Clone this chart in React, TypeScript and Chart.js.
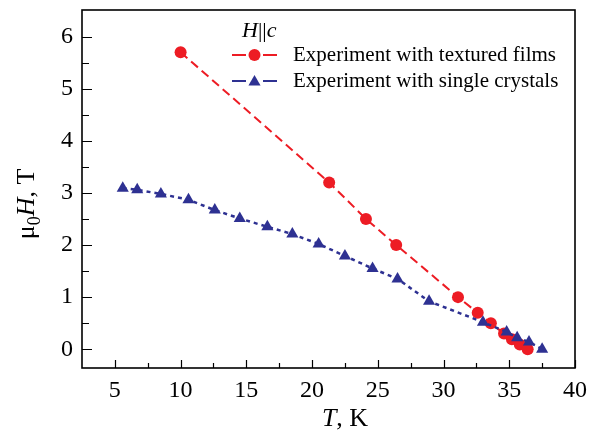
import React, { useEffect, useRef } from 'react';
import { Chart, registerables } from 'chart.js';

Chart.register(...registerables);

// ---- data ----
const filmT = [10.0, 21.3, 24.1, 26.4, 31.1, 32.6, 33.6, 34.6, 35.2, 35.8, 36.4];
const filmH = [5.7, 3.2, 2.5, 2.0, 1.0, 0.7, 0.5, 0.3, 0.19, 0.09, 0.0];

const crystalT = [5.6, 6.7, 8.5, 10.6, 12.6, 14.5, 16.6, 18.5, 20.5, 22.5, 24.6, 26.5, 28.9, 33.0, 34.8, 35.6, 36.5, 37.5];
const crystalH = [3.09, 3.06, 2.98, 2.87, 2.67, 2.51, 2.35, 2.21, 2.02, 1.79, 1.55, 1.35, 0.92, 0.52, 0.33, 0.22, 0.14, 0.0];

const filmLabel = 'Experiment with textured films';
const crystalLabel = 'Experiment with single crystals';

const xMajorTicks = [5, 10, 15, 20, 25, 30, 35, 40];
const xMinorTicks = [7.5, 12.5, 17.5, 22.5, 27.5, 32.5, 37.5];
const yMajorTicks = [0, 1, 2, 3, 4, 5, 6];
const yMinorTicks = [0.5, 1.5, 2.5, 3.5, 4.5, 5.5];

const RED = '#ed1c24';
const BLUE = '#2e3192';
const SERIF = '"Liberation Serif", "Times New Roman", serif';

type Seg = { t: string; italic?: boolean; sub?: boolean };

function segFont(s: Seg, size: number) {
  const sz = s.sub ? Math.round(size * 0.68) : size;
  return `${s.italic ? 'italic ' : ''}${sz}px ${SERIF}`;
}

function drawRich(ctx: CanvasRenderingContext2D, segs: Seg[], x: number, y: number, size: number, align: 'left' | 'center') {
  const widths = segs.map((s) => {
    ctx.font = segFont(s, size);
    return ctx.measureText(s.t).width;
  });
  const total = widths.reduce((a, b) => a + b, 0);
  let cx = align === 'center' ? x - total / 2 : x;
  ctx.textAlign = 'left';
  ctx.textBaseline = 'alphabetic';
  segs.forEach((s, i) => {
    ctx.font = segFont(s, size);
    ctx.fillText(s.t, cx, y + (s.sub ? size * 0.22 : 0));
    cx += widths[i];
  });
}

function drawMarker(ctx: CanvasRenderingContext2D, style: string, x: number, y: number, r: number) {
  ctx.beginPath();
  if (style === 'triangle') {
    let rad = 0;
    for (let k = 0; k < 3; k++) {
      const px = x + Math.sin(rad) * r;
      const py = y - Math.cos(rad) * r;
      if (k === 0) ctx.moveTo(px, py);
      else ctx.lineTo(px, py);
      rad += (2 * Math.PI) / 3;
    }
    ctx.closePath();
  } else {
    ctx.arc(x, y, r, 0, Math.PI * 2);
  }
  ctx.fill();
}

const framePlugin = {
  id: 'frame',
  afterDraw(chart: any) {
    const { ctx, chartArea: a, scales } = chart;
    const x = scales.x;
    const y = scales.y;
    ctx.save();
    ctx.strokeStyle = '#000';
    ctx.lineWidth = 1.2;
    ctx.setLineDash([]);
    ctx.beginPath();
    xMajorTicks.forEach((v) => {
      const px = Math.round(x.getPixelForValue(v)) + 0.5;
      ctx.moveTo(px, a.bottom);
      ctx.lineTo(px, a.bottom - 8);
    });
    xMinorTicks.forEach((v) => {
      const px = Math.round(x.getPixelForValue(v)) + 0.5;
      ctx.moveTo(px, a.bottom);
      ctx.lineTo(px, a.bottom - 5);
    });
    yMajorTicks.forEach((v) => {
      const py = Math.round(y.getPixelForValue(v)) + 0.5;
      ctx.moveTo(a.left, py);
      ctx.lineTo(a.left + 10, py);
    });
    yMinorTicks.forEach((v) => {
      const py = Math.round(y.getPixelForValue(v)) + 0.5;
      ctx.moveTo(a.left, py);
      ctx.lineTo(a.left + 7, py);
    });
    ctx.stroke();

    ctx.lineWidth = 1.6;
    ctx.strokeRect(a.left, a.top, a.right - a.left, a.bottom - a.top);

    ctx.fillStyle = '#000';
    // x title
    drawRich(ctx, [{ t: 'T', italic: true }, { t: ', K' }], 345, 426, 26, 'center');
    // y title
    ctx.save();
    ctx.translate(34, 204);
    ctx.rotate(-Math.PI / 2);
    drawRich(ctx, [{ t: 'μ' }, { t: '0', sub: true }, { t: 'H', italic: true }, { t: ', T' }], 0, 0, 26, 'center');
    ctx.restore();

    // legend
    drawRich(ctx, [{ t: 'H', italic: true }, { t: '||' }, { t: 'c', italic: true }], 242, 37, 22, 'left');
    const entries = [
      { ds: chart.data.datasets[0], y: 55 },
      { ds: chart.data.datasets[1], y: 81 },
    ];
    entries.forEach((e) => {
      const ds = e.ds;
      ctx.strokeStyle = ds.borderColor;
      ctx.lineWidth = 2;
      ctx.setLineDash([]);
      ctx.beginPath();
      ctx.moveTo(232, e.y);
      ctx.lineTo(246, e.y);
      ctx.moveTo(263, e.y);
      ctx.lineTo(277, e.y);
      ctx.stroke();
      ctx.fillStyle = ds.backgroundColor;
      drawMarker(ctx, ds.pointStyle, 254.5, e.y + (ds.pointStyle === 'triangle' ? 1 : 0), ds.pointRadius);
      ctx.fillStyle = '#000';
      ctx.font = `21px ${SERIF}`;
      ctx.textAlign = 'left';
      ctx.textBaseline = 'middle';
      ctx.fillText(ds.label, 293, e.y);
    });
    ctx.restore();
  },
};

export default function App() {
  const ref = useRef<HTMLCanvasElement>(null);
  useEffect(() => {
    document.body.style.margin = '0';
    const chart = new Chart(ref.current as HTMLCanvasElement, {
      type: 'scatter',
      data: {
        datasets: [
          {
            label: filmLabel,
            data: filmT.map((t, i) => ({ x: t, y: filmH[i] })),
            showLine: true,
            borderColor: RED,
            backgroundColor: RED,
            borderWidth: 2,
            borderDash: [9, 5],
            pointStyle: 'circle',
            pointRadius: 6,
            pointBorderWidth: 0,
            order: 1,
          },
          {
            label: crystalLabel,
            data: crystalT.map((t, i) => ({ x: t, y: crystalH[i] })),
            showLine: true,
            borderColor: BLUE,
            backgroundColor: BLUE,
            borderWidth: 2.5,
            borderDash: [4, 4],
            pointStyle: 'triangle',
            pointRadius: 7,
            pointBorderWidth: 0,
            order: 0,
          },
        ],
      } as any,
      options: {
        responsive: false,
        animation: false,
        layout: { padding: { left: 0, top: 10, right: 25, bottom: 0 } },
        plugins: { legend: { display: false }, tooltip: { enabled: false } },
        scales: {
          x: {
            type: 'linear',
            min: 2.5,
            max: 40,
            afterBuildTicks: (s: any) => {
              s.ticks = xMajorTicks.map((v) => ({ value: v }));
            },
            afterFit: (s: any) => {
              s.height = 65;
              s.paddingLeft = 0;
              s.paddingRight = 0;
            },
            grid: { display: false, drawTicks: false },
            border: { display: false },
            ticks: { padding: 8, color: '#000', font: { family: SERIF, size: 24 }, maxRotation: 0, autoSkip: false },
          },
          y: {
            type: 'linear',
            min: -0.36,
            max: 6.51,
            afterBuildTicks: (s: any) => {
              s.ticks = yMajorTicks.map((v) => ({ value: v }));
            },
            afterFit: (s: any) => {
              s.width = 82;
              s.paddingTop = 0;
              s.paddingBottom = 0;
            },
            grid: { display: false, drawTicks: false },
            border: { display: false },
            ticks: { padding: 9, color: '#000', font: { family: SERIF, size: 24 }, autoSkip: false },
          },
        },
      } as any,
      plugins: [framePlugin],
    });
    return () => chart.destroy();
  }, []);
  return (
    <div style={{ width: 600, height: 433 }}>
      <canvas ref={ref} width={600} height={433} style={{ display: 'block' }} />
    </div>
  );
}
